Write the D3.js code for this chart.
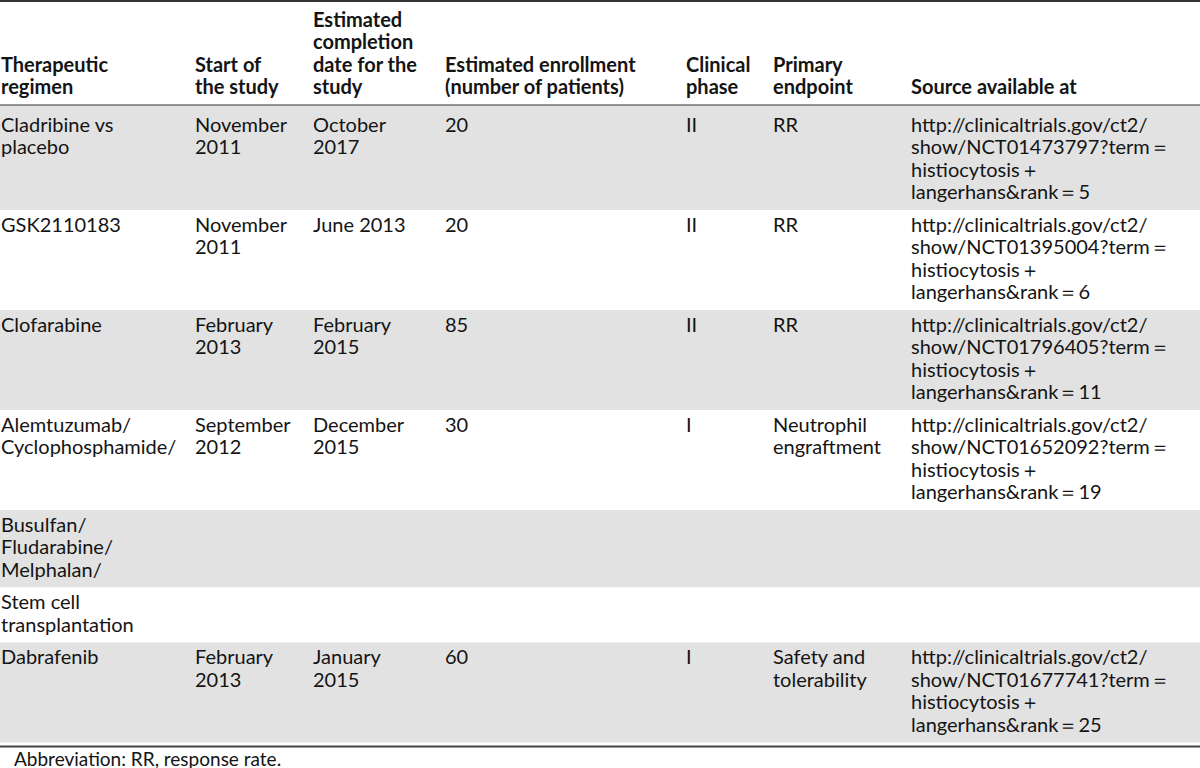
<!DOCTYPE html>
<html lang="en">
<head>
<meta charset="UTF-8">
<title>Clinical trials in Langerhans cell histiocytosis</title>
<script src="https://d3js.org/d3.v7.min.js"></script>
<style>
  body { margin: 0; background: #fff; }
  svg text { font-family: Lato, "Open Sans", sans-serif; fill: #141414; }
  .head { font-weight: bold; }
</style>
</head>
<body>
<svg id="table"></svg>
<script>
// header cells, one array of lines per column
const headers = [
  ["Therapeutic", "regimen"],
  ["Start of", "the study"],
  ["Estimated", "completion", "date for the", "study"],
  ["Estimated enrollment", "(number of patients)"],
  ["Clinical", "phase"],
  ["Primary", "endpoint"],
  ["Source available at"]
];

// body columns
const regimens = [
  ["Cladribine vs", "placebo"],
  ["GSK2110183"],
  ["Clofarabine"],
  ["Alemtuzumab/", "Cyclophosphamide/"],
  ["Busulfan/", "Fludarabine/", "Melphalan/"],
  ["Stem cell", "transplantation"],
  ["Dabrafenib"]
];
const starts = [
  ["November", "2011"], ["November", "2011"], ["February", "2013"],
  ["September", "2012"], [], [], ["February", "2013"]
];
const completions = [
  ["October", "2017"], ["June 2013"], ["February", "2015"],
  ["December", "2015"], [], [], ["January", "2015"]
];
const enrollment = ["20", "20", "85", "30", "", "", "60"];
const phases = ["II", "II", "II", "I", "", "", "I"];
const endpoints = [
  ["RR"], ["RR"], ["RR"], ["Neutrophil", "engraftment"], [], [],
  ["Safety and", "tolerability"]
];
const trialIds = ["NCT01473797", "NCT01395004", "NCT01796405", "NCT01652092", "", "", "NCT01677741"];
const ranks = [5, 6, 11, 19, null, null, 25];

const footnote = "Abbreviation: RR, response rate.";

// build the source links
const sources = trialIds.map((id, i) => id ? [
  "http://clinicaltrials.gov/ct2/",
  `show/${id}?term\uFF1D`,
  "histiocytosis\uFF0B",
  `langerhans&rank\uFF1D${ranks[i]}`
] : []);

const rows = regimens.map((r, i) => [
  r, starts[i], completions[i],
  enrollment[i] ? [enrollment[i]] : [],
  phases[i] ? [phases[i]] : [],
  endpoints[i], sources[i]
]);

const W = 1200, H = 768;
const colX = [1, 195, 313, 445, 686, 773, 911];
const lineH = 22.5;
const headBottom = 105;
const fs = 20;

const svg = d3.select("#table").attr("width", W).attr("height", H);

// row geometry
let y = headBottom;
const rowBoxes = rows.map((cells, i) => {
  const n = d3.max(cells, c => c.length);
  const pad = i === 0 ? 20 : 15;
  const h = n * lineH + pad - 5;
  const box = { y0: y, h: h, pad: pad };
  y += h;
  return box;
});
const tableBottom = y;

// zebra shading
svg.selectAll("rect.band")
  .data(rowBoxes)
  .join("rect")
  .attr("class", "band")
  .attr("x", 0)
  .attr("y", d => d.y0)
  .attr("width", W)
  .attr("height", d => d.h)
  .attr("fill", (d, i) => i % 2 === 0 ? "#e2e2e2" : "#fff");

// header (bottom aligned)
headers.forEach((lines, c) => {
  svg.append("text")
    .attr("class", "head")
    .attr("font-size", fs)
    .selectAll("tspan")
    .data(lines)
    .join("tspan")
    .attr("x", colX[c])
    .attr("y", (d, k) => headBottom - 11 - (lines.length - 1 - k) * lineH)
    .text(d => d);
});

// body cells
rows.forEach((cells, r) => {
  const box = rowBoxes[r];
  cells.forEach((lines, c) => {
    if (!lines.length) return;
    svg.append("text")
      .attr("font-size", fs)
      .selectAll("tspan")
      .data(lines)
      .join("tspan")
      .attr("x", colX[c])
      .attr("y", (d, k) => box.y0 + box.pad + 6.5 + k * lineH)
      .text(d => d);
  });
});

// rules
svg.append("line").attr("x1", 0).attr("x2", W).attr("y1", 1).attr("y2", 1)
  .attr("stroke", "#333").attr("stroke-width", 2);
svg.append("line").attr("x1", 0).attr("x2", W).attr("y1", headBottom).attr("y2", headBottom)
  .attr("stroke", "#333").attr("stroke-width", 1.2);
svg.append("line").attr("x1", 0).attr("x2", W).attr("y1", tableBottom + 4).attr("y2", tableBottom + 4)
  .attr("stroke", "#444").attr("stroke-width", 2);

svg.append("text")
  .attr("x", 14)
  .attr("y", tableBottom + 23)
  .attr("font-size", 19)
  .text(footnote);
</script>
</body>
</html>
